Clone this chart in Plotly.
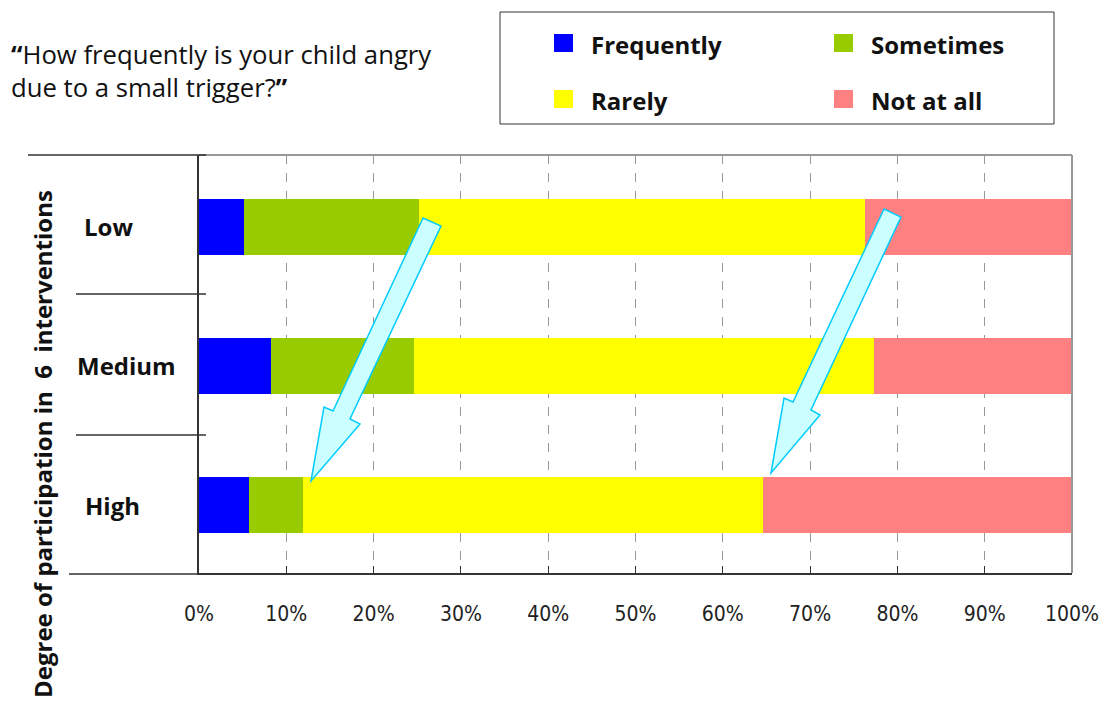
import plotly.graph_objects as go

# ---- data ----
categories = ["Low", "Medium", "High"]
series_names = ["Frequently", "Sometimes", "Rarely", "Not at all"]
frequently = [5.2, 8.2, 5.7]
sometimes = [20.0, 16.4, 6.2]
rarely = [51.1, 52.7, 52.7]
not_at_all = [23.7, 22.7, 35.4]
tick_vals = [0, 10, 20, 30, 40, 50, 60, 70, 80, 90, 100]
tick_text = ["0%", "10%", "20%", "30%", "40%", "50%", "60%", "70%", "80%", "90%", "100%"]
colors = ["#0000FF", "#99CC00", "#FFFF00", "#FF8080"]

# target layout in picture pixels
W, H = 1103, 709
L, R, T, B = 198, 1071, 155, 573
SX = 1111 / 1103  # horizontal compensation for the page capture


def px(p):
    return (p - L) / (R - L)


def py(p):
    return (B - p) / (B - T)


BOLD = "Open Sans"
fig = go.Figure()
for name, vals, col in zip(series_names, [frequently, sometimes, rarely, not_at_all], colors):
    fig.add_trace(go.Bar(y=categories, x=vals, name=name, orientation="h",
                         marker=dict(color=col, line=dict(width=0)), showlegend=False))

fig.update_layout(
    width=round(W * SX), height=H, autosize=False, barmode="stack", bargap=0.598,
    margin=dict(l=round(L * SX), r=round((W - R) * SX), t=T, b=H - B, pad=0),
    plot_bgcolor="white", paper_bgcolor="white",
    font=dict(family="DejaVu Sans", color="#222"),
)
fig.update_xaxes(range=[0, 100], tickvals=tick_vals, ticktext=tick_text,
                 showgrid=True, gridcolor="#999999", griddash="dash", gridwidth=1,
                 showline=True, linecolor="#333333", linewidth=2,
                 ticks="inside", ticklen=7, tickcolor="#333333",
                 tickfont=dict(size=21, family="Liberation Sans Narrow, DejaVu Sans Condensed, sans-serif",
                               color="#222"),
                 ticklabelstandoff=21, zeroline=False, fixedrange=True)
fig.update_yaxes(categoryorder="array", categoryarray=categories[::-1],
                 range=[-0.486, 2.514],
                 showticklabels=False, showgrid=False,
                 showline=True, linecolor="#333333", linewidth=2, ticks="",
                 fixedrange=True)

shapes = []
# top and right frame (gray)
shapes.append(dict(type="line", xref="paper", yref="paper", x0=0, x1=1, y0=1, y1=1,
                   line=dict(color="#999999", width=2)))
shapes.append(dict(type="line", xref="paper", yref="paper", x0=1, x1=1, y0=0, y1=1,
                   line=dict(color="#999999", width=2)))
# left table lines
for x0, x1, yy in [(27, 205, 155), (75, 205, 294), (75, 205, 435), (68, 198, 574)]:
    shapes.append(dict(type="line", xref="paper", yref="paper", x0=px(x0), x1=px(x1),
                       y0=py(yy), y1=py(yy), line=dict(color="#333333", width=1.5)))


def arrow(points):
    d = "M " + " L ".join(f"{px(a):.5f},{py(b):.5f}" for a, b in points) + " Z"
    return dict(type="path", xref="paper", yref="paper", path=d,
                fillcolor="#CCFFFF", line=dict(color="#00CCFF", width=1.5), layer="above")


shapes.append(arrow([(422, 218), (332, 411), (323, 407), (310, 481), (359, 424), (349, 419), (440, 226)]))
shapes.append(arrow([(883, 209), (792, 402), (783, 398), (770, 473), (819, 415), (810, 410), (900, 217)]))

# legend box
shapes.append(dict(type="rect", xref="paper", yref="paper", x0=px(499), x1=px(1053),
                   y0=py(124), y1=py(12), line=dict(color="#333333", width=1), fillcolor="white"))
leg_pos = [(553, 34), (833, 34), (553, 90), (833, 90)]
annotations = []
for (lx, ly), name, col in zip(leg_pos, series_names, colors):
    shapes.append(dict(type="rect", xref="paper", yref="paper", x0=px(lx), x1=px(lx + 19),
                       y0=py(ly + 18), y1=py(ly), line=dict(width=0), fillcolor=col))
    annotations.append(dict(text=f"<b>{name}</b>", xref="paper", yref="paper",
                            x=px(lx + 35), y=py(ly + 10), xanchor="left", yanchor="middle",
                            showarrow=False, font=dict(family=BOLD, size=24, color="#111")))

# category labels
label_x = {"Low": 81, "Medium": 74, "High": 82}
for c in categories:
    annotations.append(dict(text=f"<b>{c}</b>", xref="paper", yref="y", x=px(label_x[c]), y=c,
                            xanchor="left", yanchor="middle", showarrow=False,
                            font=dict(family=BOLD, size=24, color="#111")))

# y-axis title
annotations.append(dict(text="<b>Degree of participation in  6  interventions</b>",
                        xref="paper", yref="paper", x=px(41), y=py(444), textangle=-90,
                        xanchor="center", yanchor="middle", showarrow=False,
                        font=dict(family=BOLD, size=24, color="#111")))

# question text
annotations.append(dict(text="<b>“</b>How frequently is your child angry<br>due to a small trigger?<b>”</b>",
                        xref="paper", yref="paper", x=px(8), y=py(35), xanchor="left", yanchor="top",
                        align="left", showarrow=False,
                        font=dict(family="Open Sans", size=25.7, color="#111")))

fig.update_layout(shapes=shapes, annotations=annotations)
post = ("document.documentElement.style.margin='0px';document.documentElement.style.overflow='hidden';"
        "document.body.style.margin='0px';document.body.style.overflow='hidden';")
fig.write_html("out.html",
               config={"responsive": False, "displayModeBar": False, "staticPlot": True},
               post_script=post)
